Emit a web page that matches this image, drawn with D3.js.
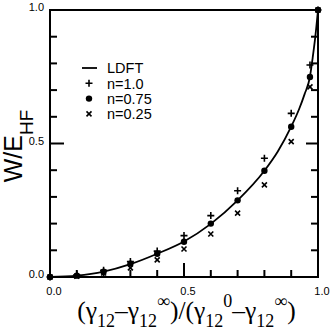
<!DOCTYPE html>
<html><head><meta charset="utf-8">
<script src="https://cdn.jsdelivr.net/npm/d3@7"></script>
<style>body{margin:0;background:#fff}svg{display:block}</style>
</head><body>
<script>
// ---- data ----
const xTickLabels = ["0.0", "0.5", "1.0"];
const yTickLabels = ["0.0", "0.5", "1.0"];
const xPts = [0, 0.1, 0.2, 0.3, 0.4, 0.5, 0.6, 0.7, 0.8, 0.9, 0.97, 1.0];
const n100 = [0, 0.008, 0.025, 0.058, 0.097, 0.155, 0.23, 0.323, 0.445, 0.613, 0.794, 1.0];
const n075 = [0, 0.005, 0.02, 0.05, 0.087, 0.132, 0.2, 0.287, 0.398, 0.563, 0.749, 1.0];
const n025 = [0, 0.003, 0.015, 0.034, 0.064, 0.105, 0.161, 0.239, 0.345, 0.507, 0.712, 1.0];
const ldftX = [0, 0.1, 0.2, 0.3, 0.4, 0.5, 0.6, 0.7, 0.8, 0.85, 0.9, 0.93, 0.95, 0.97, 0.98, 0.99, 1.0];
const ldftY = [0, 0.005, 0.02, 0.048, 0.087, 0.133, 0.199, 0.287, 0.398, 0.47, 0.563, 0.63, 0.685, 0.75, 0.82, 0.9, 1.0];
const legendLabels = ["LDFT", "n=1.0", "n=0.75", "n=0.25"];

const W = 331, H = 331;
const L = 50, R = 318, T = 10, B = 277;
const svg = d3.select("body").append("svg").attr("width", W).attr("height", H);
const x = d3.scaleLinear().domain([0, 1]).range([L, R]);
const y = d3.scaleLinear().domain([0, 1]).range([B, T]);
const sans = "'Liberation Sans', Arial, Helvetica, sans-serif";
const serif = "'Liberation Serif', 'Times New Roman', serif";

const minor = d3.range(0, 1.0001, 0.1).map(v => +v.toFixed(1));
const isMajor = v => Math.abs(v - 0.5) < 1e-6 || v === 0 || v === 1;

// ticks (inward)
const g = svg.append("g").attr("stroke", "#000").attr("stroke-width", 2);
minor.forEach(v => {
  const len = isMajor(v) ? 14 : 7;
  g.append("line").attr("x1", x(v)).attr("x2", x(v)).attr("y1", B).attr("y2", B - len);
  g.append("line").attr("x1", L).attr("x2", L + len).attr("y1", y(v)).attr("y2", y(v));
  g.append("line").attr("x1", R).attr("x2", R - (isMajor(v) ? 12 : 7)).attr("y1", y(v)).attr("y2", y(v));
});
svg.append("rect").attr("x", L).attr("y", T).attr("width", R - L).attr("height", B - T)
  .attr("fill", "none").attr("stroke", "#000").attr("stroke-width", 2);

// tick labels
xTickLabels.forEach((t, i) => {
  svg.append("text").attr("x", x(i * 0.5) + 4).attr("y", 295).attr("text-anchor", "middle")
    .attr("font-family", sans).attr("font-size", 11).text(t);
});
yTickLabels.forEach((t, i) => {
  svg.append("text").attr("x", 44).attr("y", y(i * 0.5) + 1).attr("text-anchor", "end")
    .attr("font-family", sans).attr("font-size", 11).text(t);
});

// LDFT curve
const line = d3.line().x(d => x(d[0])).y(d => y(d[1])).curve(d3.curveMonotoneX);
svg.append("path").datum(ldftX.map((v, i) => [v, ldftY[i]])).attr("d", line)
  .attr("fill", "none").attr("stroke", "#000").attr("stroke-width", 1.8);

// markers
function plus(sel, cx, cy) {
  sel.append("path").attr("d", `M${cx-3.5},${cy}H${cx+3.5}M${cx},${cy-3.5}V${cy+3.5}`)
    .attr("stroke", "#000").attr("stroke-width", 1.6).attr("fill", "none");
}
function cross(sel, cx, cy) {
  sel.append("path").attr("d", `M${cx-2.5},${cy-2.5}L${cx+2.5},${cy+2.5}M${cx-2.5},${cy+2.5}L${cx+2.5},${cy-2.5}`)
    .attr("stroke", "#000").attr("stroke-width", 1.6).attr("fill", "none");
}
function dot(sel, cx, cy) {
  sel.append("circle").attr("cx", cx).attr("cy", cy).attr("r", 3.2).attr("fill", "#000");
}
const mg = svg.append("g");
xPts.forEach((v, i) => {
  plus(mg, x(v), y(n100[i]));
  cross(mg, x(v), y(n025[i]));
  dot(mg, x(v), y(n075[i]));
});

// legend
const lx = 89, ly0 = 68, lstep = 15.3;
svg.append("line").attr("x1", 82).attr("x2", 97).attr("y1", ly0).attr("y2", ly0)
  .attr("stroke", "#000").attr("stroke-width", 1.8);
plus(svg, lx, ly0 + lstep);
dot(svg, lx, ly0 + 2 * lstep);
cross(svg, lx, ly0 + 3 * lstep);
legendLabels.forEach((t, i) => {
  svg.append("text").attr("x", 107).attr("y", ly0 + i * lstep + 5.2)
    .attr("font-family", sans).attr("font-size", 14.5).text(t);
});

// y title
const yt = svg.append("text").attr("transform", "translate(22,146) rotate(-90)")
  .attr("text-anchor", "middle").attr("font-family", sans).attr("font-size", 25);
yt.append("tspan").text("W/E");
yt.append("tspan").attr("font-size", 19).attr("dy", 11).text("HF");

// x title
const xt = svg.append("text").attr("x", 186.5).attr("y", 319).attr("text-anchor", "middle")
  .attr("font-family", serif);
const M = 25.5, S = 18;
const parts = [
  ["(", 0, M], ["γ", 0, M], ["12", 8, S], ["–", -8, M],
  ["γ", 0, M], ["12", 8, S], ["∞", -20, S], [")/(", 12, M],
  ["γ", 0, M], ["12", 8, S], ["0", -20, S], ["–", 12, M],
  ["γ", 0, M], ["12", 8, S], ["∞", -20, S], [")", 12, M]
];
parts.forEach(p => {
  xt.append("tspan").attr("dy", p[1]).attr("font-size", p[2]).text(p[0]);
});
</script>
</body></html>
